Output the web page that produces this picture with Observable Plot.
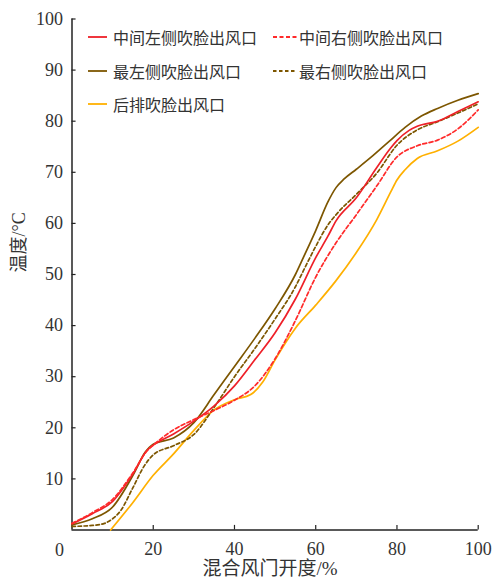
<!DOCTYPE html>
<html>
<head>
<meta charset="utf-8">
<script src="https://cdn.jsdelivr.net/npm/d3@7"></script>
<script src="https://cdn.jsdelivr.net/npm/@observablehq/plot@0.6"></script>
<style>
  html, body { margin: 0; padding: 0; background: #fff; }
  #wrap { position: relative; width: 493px; height: 582px; }
  #legend { position: absolute; left: 0; top: 0; width: 493px; height: 130px; pointer-events: none;
    font-family: "Noto Sans CJK SC", "Noto Sans", sans-serif; font-size: 16px; color: #333; }
  .item { position: absolute; display: flex; align-items: center; white-space: nowrap; height: 20px; }
  .item svg { margin-right: 6px; }
</style>
</head>
<body>
<div id="wrap"><div id="legend"></div></div>
<script>
// ---- data ----
const seriesNames = ["中间左侧吹脸出风口", "中间右侧吹脸出风口", "最左侧吹脸出风口", "最右侧吹脸出风口", "后排吹脸出风口"];
const seriesColors = ["#ee2028", "#ff2a2a", "#7d5600", "#7d5600", "#ffb000"];
const seriesDash = [null, "4,2.5", null, "3.5,2.5", null];

const xRedSolid = [0, 5, 10, 15, 18.5, 20, 25, 30, 35, 40, 45, 50, 55, 60, 63, 65, 70, 75, 78.5, 80, 83, 85, 90, 95, 100];
const yRedSolid = [1.2, 3.2, 5.6, 11.0, 15.6, 16.6, 18.8, 21.3, 24.3, 28.2, 33.3, 38.6, 45.2, 53.3, 57.5, 60.5, 65.0, 70.9, 74.8, 76.2, 78.2, 79.0, 80.0, 81.9, 83.8];

const xRedDash = [0, 5, 10, 15, 18.5, 20, 25, 30, 35, 40, 45, 50, 55, 60, 65, 70, 75, 80, 85, 90, 95, 100];
const yRedDash = [1.3, 3.4, 6.0, 11.2, 15.5, 16.6, 19.6, 21.6, 23.4, 25.4, 28.2, 33.5, 41, 49.5, 56.2, 61.7, 67.3, 73, 75.2, 76.3, 78.5, 82.2];

const xBrownSolid = [0, 5, 10, 15, 18, 20, 25, 30, 35, 40, 45, 50, 55, 57, 60, 63, 65, 67, 70, 74, 78, 82, 86, 90, 95, 100];
const yBrownSolid = [1.0, 2.2, 4.5, 10.7, 15.2, 16.8, 18.0, 21, 26.5, 32, 37.5, 43.3, 50, 53.4, 58.6, 64.2, 67, 68.7, 70.6, 73.2, 76, 78.8, 81, 82.5, 84.1, 85.4];

const xBrownDash = [0, 5, 8, 10, 12, 15, 18, 20, 25, 30, 35, 40, 45, 50, 55, 57, 60, 63, 65, 70, 75, 80, 85, 90, 95, 100];
const yBrownDash = [0.7, 0.9, 1.3, 2.2, 3.8, 8.3, 12.8, 14.7, 16.5, 18.7, 24, 30, 35.5, 41.3, 47.6, 50.8, 55.5, 59.7, 61.7, 65.7, 69.8, 75.3, 78.3, 79.9, 81.6, 83.4];

const xYellow = [9.5, 15, 20, 25, 30, 35, 40, 44, 47, 50, 55, 60, 65, 70, 75, 78.5, 80, 82, 85, 90, 95, 100];
const yYellow = [0, 5.4, 10.7, 14.9, 19.5, 23.5, 25.5, 26.5, 29, 33.3, 39.5, 44, 48.8, 54.3, 60.7, 66.2, 68.5, 70.5, 72.7, 74.2, 76.1, 78.8];

const xTicks = [20, 40, 60, 80, 100];
const yTicks = [10, 20, 30, 40, 50, 60, 70, 80, 90, 100];
const xLabel = "混合风门开度/%";
const yLabel = "温度/°C";

// ---- build tables ----
const toRows = (xs, ys) => xs.map((x, i) => ({x, y: ys[i]}));
const series = [
  toRows(xRedSolid, yRedSolid),
  toRows(xRedDash, yRedDash),
  toRows(xBrownSolid, yBrownSolid),
  toRows(xBrownDash, yBrownDash),
  toRows(xYellow, yYellow)
];
const drawOrder = [4, 2, 3, 0, 1];

const numFont = "'Liberation Serif', 'Times New Roman', serif";
const cjkFont = "'Liberation Serif', 'Noto Sans CJK SC', serif";

const lineMarks = drawOrder.map(i => Plot.line(series[i], {
  x: "x", y: "y", curve: "monotone-x",
  stroke: seriesColors[i], strokeWidth: 1.7,
  strokeDasharray: seriesDash[i] || undefined
}));

const chart = Plot.plot({
  width: 493, height: 582,
  marginLeft: 71.5, marginRight: 15.3, marginTop: 18.5, marginBottom: 52.5,
  x: {domain: [0, 100]},
  y: {domain: [0, 100]},
  style: {fontFamily: numFont, fontSize: "18px", color: "#333", background: "#fff", overflow: "visible"},
  marks: [
    Plot.axisX({ticks: xTicks, tickSize: 0, tickPadding: 12, label: null, fontSize: 18}),
    Plot.axisY({ticks: yTicks, tickSize: 0, tickPadding: 9, label: null, fontSize: 18}),
    Plot.text(["0"], {x: 0, y: 0, dx: -12.5, dy: 20, fontSize: 18, fill: "#333", lineAnchor: "middle"}),
    Plot.ruleX(xTicks, {y1: 0, y2: 0.9, stroke: "#222", strokeWidth: 1.2}),
    Plot.ruleY(yTicks, {x1: 0, x2: 1, stroke: "#222", strokeWidth: 1.2}),
    Plot.ruleX([0], {stroke: "#222", strokeWidth: 1.5}),
    Plot.ruleY([0], {stroke: "#222", strokeWidth: 1.5}),
    ...lineMarks,
    Plot.text([yLabel], {frameAnchor: "left", dx: -52.5, dy: -2, rotate: -90, fontSize: 18, fill: "#333", fontFamily: cjkFont}),
    Plot.text([xLabel], {frameAnchor: "bottom", dx: -5, dy: 45, fontSize: 19, fill: "#333", fontFamily: cjkFont})
  ]
});
document.getElementById("wrap").prepend(chart);

// ---- legend (overlay inside plot area) ----
const legendPos = [
  {left: 88, top: 37}, {left: 273, top: 37},
  {left: 88, top: 70.5}, {left: 273, top: 70.5},
  {left: 88, top: 104}
];
const legend = document.getElementById("legend");
seriesNames.forEach((name, i) => {
  const item = document.createElement("div");
  item.className = "item";
  item.style.left = legendPos[i].left + "px";
  item.style.top = (legendPos[i].top - 10) + "px";
  const len = i % 2 === 0 ? 19 : 24;
  const dash = seriesDash[i] ? ` stroke-dasharray="${seriesDash[i]}"` : "";
  item.innerHTML = `<svg width="${len}" height="20"><line x1="0" x2="${len}" y1="10" y2="10" stroke="${seriesColors[i]}" stroke-width="1.8"${dash}/></svg><span>${name}</span>`;
  if (i % 2 === 1) item.querySelector("svg").style.marginRight = "2px";
  legend.appendChild(item);
});
</script>
</body>
</html>
